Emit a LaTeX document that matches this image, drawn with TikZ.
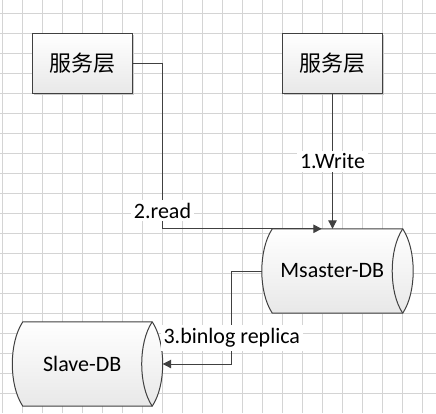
\documentclass[tikz,border=0pt]{standalone}
\usepackage{fontspec}
\setmainfont{Carlito}
\newfontfamily\cjkfont{Noto Sans CJK SC}
\usetikzlibrary{arrows.meta,backgrounds,shadows}
\definecolor{gridc}{RGB}{212,212,212}
\definecolor{linec}{RGB}{64,64,64}
\definecolor{shadebot}{RGB}{232,232,232}
\tikzset{
 gridline/.style={draw=gridc, line width=1bp},
 svcbox/.style={draw=linec, line width=1bp, top color=white, bottom color=shadebot,
   minimum width=100bp, minimum height=60bp, inner sep=0pt,
   font=\cjkfont\fontsize{22bp}{26bp}\selectfont,
   drop shadow={shadow xshift=1.5bp, shadow yshift=-1.5bp, fill=gray!40, opacity=1}},
 dbbody/.style={inner sep=0pt, minimum height=84bp, font=\fontsize{22bp}{26bp}\selectfont},
 cylshape/.style={draw=linec, line width=1bp, top color=white, bottom color=shadebot},
 cylline/.style={draw=linec, line width=1bp},
 conn/.style={draw=linec, line width=1bp, -{Triangle[length=8.5bp,width=8.5bp]}},
 lbl/.style={fill=white, inner sep=3bp, font=\fontsize{22bp}{26bp}\selectfont},
}
\begin{document}
\begin{tikzpicture}[x=1bp,y=-1bp]
\useasboundingbox (0,0) rectangle (436,413);
\begin{scope}[on background layer]
 \fill[white] (0,0) rectangle (436,413);
 \foreach \x in {2.3,22.3,...,422.4} \draw[gridline] (\x,0) -- (\x,413);
 \foreach \y in {13.3,33.3,...,413} \draw[gridline] (0,\y) -- (436,\y);
\end{scope}

\node[svcbox] (s1) at (82.5,63) {服务层};
\node[svcbox] (s2) at (332.5,63) {服务层};

\node[dbbody, minimum width=140.5bp] (m) at (332.25,271) {Msaster-DB};
\node[dbbody, minimum width=139.5bp] (sl) at (82.25,364) {Slave-DB};

\begin{scope}[on background layer]
 \path[cylshape] ([xshift=10.5bp]m.north west) .. controls +(-14,21) and +(-14,-21) .. ([xshift=10.5bp]m.south west)
   -- (m.south east) .. controls +(14,-21) and +(14,21) .. (m.north east) -- cycle;
 \path[cylline] (m.north east) .. controls +(-14,21) and +(-14,-21) .. (m.south east);
 \path[cylshape] ([xshift=10.5bp]sl.north west) .. controls +(-14,21) and +(-14,-21) .. ([xshift=10.5bp]sl.south west)
   -- (sl.south east) .. controls +(14,-21) and +(14,21) .. (sl.north east) -- cycle;
 \path[cylline] (sl.north east) .. controls +(-14,21) and +(-14,-21) .. (sl.south east);
\end{scope}

\draw[conn] (s1.east) -- ++(29.5,0) |- node[lbl,pos=0.445]{2.read} ([xshift=-10.5bp]m.north);
\draw[conn] (s2.south) -- node[lbl]{1.Write} (s2.south |- m.north);
\draw[conn] (m.west) -- ++(-30,0) |- node[lbl,pos=0.36]{3.binlog replica} ([xshift=10.5bp]sl.east);
\end{tikzpicture}
\end{document}
